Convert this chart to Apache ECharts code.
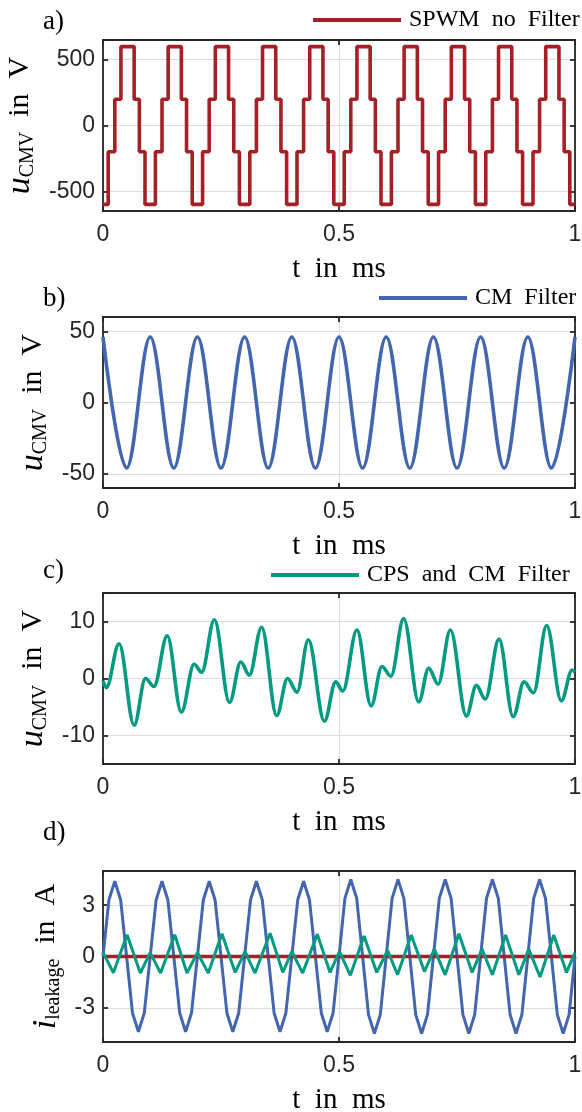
<!DOCTYPE html>
<html>
<head>
<meta charset="utf-8">
<script src="https://cdn.jsdelivr.net/npm/echarts@6/dist/echarts.min.js"></script>
<style>
  html, body { margin: 0; padding: 0; background: #fff; }
  #chart { width: 582px; height: 1112px; }
</style>
</head>
<body>
<div id="chart"></div>
<script>
// a) SPWM, no filter: switching instants (ms) and the level held after each one (V)
const spwmT = [0,
  0.011, 0.025, 0.038, 0.066, 0.077, 0.089,
  0.111, 0.125, 0.138, 0.166, 0.177, 0.189,
  0.211, 0.225, 0.238, 0.266, 0.277, 0.289,
  0.311, 0.325, 0.338, 0.366, 0.377, 0.389,
  0.411, 0.425, 0.438, 0.466, 0.477, 0.489,
  0.511, 0.525, 0.538, 0.566, 0.577, 0.589,
  0.611, 0.625, 0.638, 0.666, 0.677, 0.689,
  0.711, 0.725, 0.738, 0.766, 0.777, 0.789,
  0.811, 0.825, 0.838, 0.866, 0.877, 0.889,
  0.911, 0.925, 0.938, 0.966, 0.977, 0.989,
  1.0];
const spwmV = [-600,
  -200, 200, 600, 200, -200, -600,
  -200, 200, 600, 200, -200, -600,
  -200, 200, 600, 200, -200, -600,
  -200, 200, 600, 200, -200, -600,
  -200, 200, 600, 200, -200, -600,
  -200, 200, 600, 200, -200, -600,
  -200, 200, 600, 200, -200, -600,
  -200, 200, 600, 200, -200, -600,
  -200, 200, 600, 200, -200, -600,
  -200, 200, 600, 200, -200, -600,
  -600];

// b) CM filter: peaks and troughs (ms, V)
const cmT = [0, 0.05, 0.1, 0.15, 0.2, 0.25, 0.3, 0.35, 0.4, 0.45, 0.5,
  0.55, 0.6, 0.65, 0.7, 0.75, 0.8, 0.85, 0.9, 0.95, 1.0];
const cmV = [46, -46, 46, -46, 46, -46, 46, -46, 46, -46, 46,
  -46, 46, -46, 46, -46, 46, -46, 46, -46, 46];

// c) CPS and CM filter: turning points (ms, V)
const cpsT = [0, 0.007, 0.034, 0.066, 0.090, 0.108, 0.136, 0.166, 0.193, 0.209,
  0.236, 0.268, 0.292, 0.310, 0.336, 0.368, 0.391, 0.411, 0.435, 0.469,
  0.493, 0.508, 0.538, 0.568, 0.591, 0.610, 0.637, 0.669, 0.690, 0.710,
  0.736, 0.770, 0.791, 0.810, 0.839, 0.869, 0.892, 0.912, 0.940, 0.971,
  0.994, 1.0];
const cpsV = [-0.4, -1.6, 6.1, -8.2, 0.0, -1.4, 7.5, -5.9, 2.5, 1.1,
  10.3, -4.2, 2.9, 0.6, 9.0, -6.5, 0.0, -2.4, 6.8, -7.5,
  -0.6, -2.2, 8.5, -4.8, 2.1, 0.4, 10.5, -4.1, 1.8, -1.0,
  8.5, -6.6, -1.2, -3.6, 6.9, -6.7, -0.6, -2.5, 9.3, -3.9,
  1.5, 1.1];

// d) leakage currents (ms, A)
const leakSpwmT = [0, 1.0];
const leakSpwmV = [0, 0];
const leakCmT = [0, 0.0125, 0.025, 0.0375, 0.05, 0.0625, 0.075, 0.0875,
  0.1, 0.1125, 0.125, 0.1375, 0.15, 0.1625, 0.175, 0.1875,
  0.2, 0.2125, 0.225, 0.2375, 0.25, 0.2625, 0.275, 0.2875,
  0.3, 0.3125, 0.325, 0.3375, 0.35, 0.3625, 0.375, 0.3875,
  0.4, 0.4125, 0.425, 0.4375, 0.45, 0.4625, 0.475, 0.4875,
  0.5, 0.5125, 0.525, 0.5375, 0.55, 0.5625, 0.575, 0.5875,
  0.6, 0.6125, 0.625, 0.6375, 0.65, 0.6625, 0.675, 0.6875,
  0.7, 0.7125, 0.725, 0.7375, 0.75, 0.7625, 0.775, 0.7875,
  0.8, 0.8125, 0.825, 0.8375, 0.85, 0.8625, 0.875, 0.8875,
  0.9, 0.9125, 0.925, 0.9375, 0.95, 0.9625, 0.975, 0.9875,
  1.0];
const leakCmV = [0, 3.3, 4.4, 3.3, 0, -3.3, -4.4, -3.3,
  0, 3.3, 4.4, 3.3, 0, -3.3, -4.4, -3.3,
  0, 3.3, 4.4, 3.3, 0, -3.3, -4.4, -3.3,
  0, 3.3, 4.4, 3.3, 0, -3.3, -4.4, -3.3,
  0, 3.3, 4.4, 3.3, 0, -3.3, -4.4, -3.3,
  0, 3.4, 4.5, 3.4, 0, -3.4, -4.5, -3.4,
  0, 3.4, 4.5, 3.4, 0, -3.4, -4.5, -3.4,
  0, 3.4, 4.5, 3.4, 0, -3.4, -4.5, -3.4,
  0, 3.4, 4.5, 3.4, 0, -3.4, -4.5, -3.4,
  0, 3.4, 4.5, 3.4, 0, -3.4, -4.5, -3.4,
  0];
const leakCpsT = [0, 0.022, 0.051, 0.079, 0.100, 0.122, 0.152, 0.178, 0.200, 0.223,
  0.252, 0.280, 0.301, 0.322, 0.354, 0.381, 0.400, 0.423, 0.454, 0.481,
  0.501, 0.524, 0.553, 0.580, 0.603, 0.624, 0.653, 0.681, 0.702, 0.725,
  0.754, 0.782, 0.803, 0.825, 0.853, 0.881, 0.902, 0.926, 0.955, 0.982,
  1.0];
const leakCpsV = [0.25, -0.95, 1.27, -0.97, 0.23, -0.97, 1.27, -0.97, 0.23, -0.97,
  1.33, -0.93, 0.29, -0.97, 1.36, -0.93, 0.29, -0.97, 1.31, -0.93,
  0.3, -1.1, 1.2, -0.93, 0.35, -1.07, 1.26, -0.88, 0.43, -1.07,
  1.33, -0.93, 0.43, -1.07, 1.26, -1.07, 0.43, -1.2, 1.26, -0.93,
  0.23];

// axis ticks
const yTicks = [[-500, 0, 500], [-50, 0, 50], [-10, 0, 10], [-3, 0, 3]];
const yLimits = [650, 60, 15, 5];
const panelNames = ['a)', 'b)', 'c)', 'd)'];

const RED = '#A51F26';
const BLUE = '#4465AF';
const GREEN = '#009A80';
const INK = '#262626';
const GRIDLINE = '#dcdcdc';
const SERIF = 'Liberation Serif';
const SANS = 'Liberation Sans';

const tops = [40, 317, 593, 871];
const plotH = 171;

const pairs = (t, v) => t.map((x, k) => [x, v[k]]);

const nameRich = {
  i: { fontFamily: SERIF, fontStyle: 'italic', fontSize: 34, lineHeight: 36, color: '#000' },
  s: { fontFamily: SERIF, fontSize: 20, lineHeight: 20, verticalAlign: 'bottom', color: '#000' },
  r: { fontFamily: SERIF, fontSize: 30, lineHeight: 36, color: '#000' }
};
const yNames = [
  '{i|u}{s|CMV}{r|  in  V}',
  '{i|u}{s|CMV}{r|  in  V}',
  '{i|u}{s|CMV}{r|  in  V}',
  '{i|i}{s|leakage}{r|  in  A}'
];
const yNameGaps = [48, 48, 48, 30];

const grids = [], xAxes = [], yAxes = [];
tops.forEach((top, i) => {
  grids.push({ left: 103, width: 472, top: top, height: plotH, outerBoundsMode: 'none' });
  xAxes.push({
    gridIndex: i, type: 'value', min: 0, max: 1, interval: 0.5,
    axisLine: { show: true, onZero: false, lineStyle: { color: INK, width: 1.8 } },
    axisTick: { inside: true, length: 5, lineStyle: { color: INK, width: 1.8 } },
    axisLabel: { margin: 12, fontFamily: SANS, fontSize: 23, color: INK },
    splitLine: { show: true, lineStyle: { color: GRIDLINE, width: 1.2 } },
    name: 't  in  ms', nameLocation: 'middle', nameGap: 44,
    nameTextStyle: { fontFamily: SERIF, fontSize: 29, color: '#000' }
  });
  xAxes.push({
    gridIndex: i, type: 'value', min: 0, max: 1, interval: 0.5, position: 'top',
    axisLine: { show: true, onZero: false, lineStyle: { color: INK, width: 1.8 } },
    axisTick: { inside: true, length: 5, lineStyle: { color: INK, width: 1.8 } },
    axisLabel: { show: false },
    splitLine: { show: false }
  });
  yAxes.push({
    gridIndex: i, type: 'value', min: -yLimits[i], max: yLimits[i],
    axisLine: { show: true, onZero: false, lineStyle: { color: INK, width: 1.8 } },
    axisTick: { inside: true, length: 5, customValues: yTicks[i], lineStyle: { color: INK, width: 1.8 } },
    axisLabel: { customValues: yTicks[i], margin: 8, fontFamily: SANS, fontSize: 23, color: INK },
    splitLine: { show: true, lineStyle: { color: GRIDLINE, width: 1.2 } },
    name: yNames[i], nameLocation: 'middle', nameGap: yNameGaps[i], nameRotate: 90,
    nameTextStyle: { rich: nameRich }
  });
  yAxes.push({
    gridIndex: i, type: 'value', min: -yLimits[i], max: yLimits[i], position: 'right',
    axisLine: { show: true, onZero: false, lineStyle: { color: INK, width: 1.8 } },
    axisTick: { inside: true, length: 5, customValues: yTicks[i], lineStyle: { color: INK, width: 1.8 } },
    axisLabel: { show: false },
    splitLine: { show: false }
  });
});

const lineSeries = (name, panel, data, color, width, extra) => Object.assign({
  name: name, type: 'line', xAxisIndex: panel * 2, yAxisIndex: panel * 2,
  data: data, showSymbol: false, symbol: 'none',
  lineStyle: { color: color, width: width }, itemStyle: { color: color },
  emphasis: { disabled: true }
}, extra || {});

const legendBase = {
  icon: 'rect', itemWidth: 88, itemHeight: 4, selectedMode: false,
  formatter: n => n.replace(/ /g, '  '),
  textStyle: { fontFamily: SERIF, fontSize: 24, lineHeight: 24, color: '#000', padding: [0, 0, 0, 3] },
  padding: 0
};

const option = {
  animation: false,
  backgroundColor: '#fff',
  title: panelNames.map((t, i) => ({
    text: t, left: 43, top: [8, 285, 557, 819][i], padding: 0,
    textStyle: { fontFamily: SERIF, fontSize: 27, fontWeight: 'normal', color: '#000' }
  })),
  legend: [
    Object.assign({}, legendBase, { left: 313, top: 8, data: ['SPWM no Filter'] }),
    Object.assign({}, legendBase, { left: 379, top: 286, data: ['CM Filter'] }),
    Object.assign({}, legendBase, { left: 271, top: 563, data: ['CPS and CM Filter'] })
  ],
  grid: grids,
  xAxis: xAxes,
  yAxis: yAxes,
  series: [
    lineSeries('SPWM no Filter', 0, pairs(spwmT, spwmV), RED, 3.6, { step: 'end' }),
    lineSeries('CM Filter', 1, pairs(cmT, cmV), BLUE, 3.6, { smooth: 0.36, smoothMonotone: 'x' }),
    lineSeries('CPS and CM Filter', 2, pairs(cpsT, cpsV), GREEN, 3.6, { smooth: 0.36, smoothMonotone: 'x' }),
    lineSeries('CM Filter', 3, pairs(leakCmT, leakCmV), BLUE, 3),
    lineSeries('SPWM no Filter', 3, pairs(leakSpwmT, leakSpwmV), RED, 3.4),
    lineSeries('CPS and CM Filter', 3, pairs(leakCpsT, leakCpsV), GREEN, 3)
  ]
};

const chart = echarts.init(document.getElementById('chart'), null, { renderer: 'canvas' });
chart.setOption(option);
</script>
</body>
</html>
